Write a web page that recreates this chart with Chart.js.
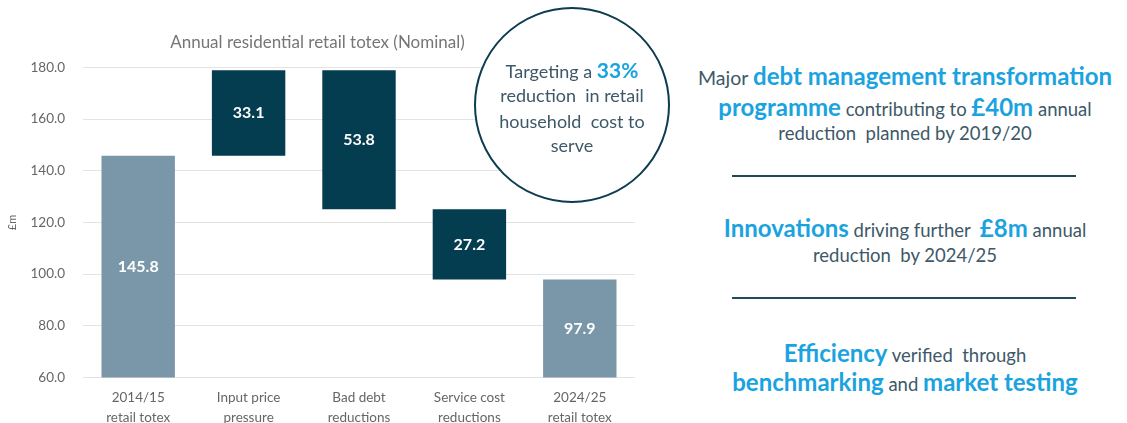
<!DOCTYPE html>
<html>
<head>
<meta charset="utf-8">
<script src="https://cdn.jsdelivr.net/npm/chart.js@4/dist/chart.umd.min.js"></script>
<style>
  body { margin: 0; background: #fff; font-family: Lato, "Open Sans", sans-serif; }
  #page { position: relative; width: 1127px; height: 423px; overflow: hidden; }
  #chartBox { position: absolute; left: 0; top: 0; width: 636px; height: 423px; }
  #circle {
    position: absolute; left: 474px; top: 7px; width: 196px; height: 196px;
    box-sizing: border-box; border: 2px solid #0d3b4f; border-radius: 50%; background: #fff;
  }
  .cl { position: absolute; left: 0; width: 100%; text-align: center; color: #3d5868; font-size: 18px; line-height: 24px; white-space: nowrap; }
  .rt { position: absolute; left: 685px; width: 440px; text-align: center; color: #3d5868; font-size: 18.5px; line-height: 30px; white-space: nowrap; }
  .hl { color: #1aa3df; font-weight: bold; font-size: 24px; }
  .rule { position: absolute; left: 732px; width: 344px; height: 2px; background: #1f4b5e; }
</style>
</head>
<body>
<div id="page">
  <div id="chartBox"><canvas id="waterfall"></canvas></div>

  <div id="circle">
    <div class="cl" style="top:49px">Targeting a <span class="hl" style="font-size:21px">33%</span></div>
    <div class="cl" style="top:74px">reduction&nbsp; in retail</div>
    <div class="cl" style="top:100px">household&nbsp; cost to</div>
    <div class="cl" style="top:124px">serve</div>
  </div>

  <div class="rt" style="top:61px"><span style="font-size:19.5px">Major</span> <span class="hl">debt management transformation</span></div>
  <div class="rt" style="top:92px"><span class="hl">programme</span> contributing to <span class="hl">£40m</span> annual</div>
  <div class="rt" style="top:118px">reduction&nbsp; planned by 2019/20</div>
  <div class="rule" style="top:175px"></div>

  <div class="rt" style="top:213px"><span class="hl">Innovations</span> driving further&nbsp; <span class="hl">£8m</span> annual</div>
  <div class="rt" style="top:240px">reduction&nbsp; by 2024/25</div>
  <div class="rule" style="top:297px"></div>

  <div class="rt" style="top:338px"><span class="hl">Efficiency</span> verified&nbsp; through</div>
  <div class="rt" style="top:367px"><span class="hl">benchmarking</span> and <span class="hl">market testing</span></div>
</div>

<script>
const categories = [
  ["2014/15", "retail totex"],
  ["Input price", "pressure"],
  ["Bad debt", "reductions"],
  ["Service cost", "reductions"],
  ["2024/25", "retail totex"]
]
const changes = [145.8, 33.1, -53.8, -27.2, 97.9]
const isTotal = [true, false, false, false, true]
const yMin = 60
const yMax = 180
const yStep = 20

const totalColor = "#7a96a9"
const stepColor = "#043c50"

// floating bars: totals start at zero, steps start where the last bar ended
let running = 0
const ranges = changes.map((v, i) => {
  if (isTotal[i]) { running = v; return [0, v] }
  const start = running
  running = +(running + v).toFixed(1)
  return [start, running]
})

const valueLabels = {
  id: "valueLabels",
  afterDatasetsDraw(chart) {
    const ctx = chart.ctx
    const area = chart.chartArea
    const meta = chart.getDatasetMeta(0)
    ctx.save()
    ctx.fillStyle = "#ffffff"
    ctx.font = "bold 16px Lato, 'Open Sans', sans-serif"
    ctx.textAlign = "center"
    ctx.textBaseline = "middle"
    meta.data.forEach((bar, i) => {
      const p = bar.getProps(["x", "y", "base"], true)
      const top = Math.max(Math.min(p.y, p.base), area.top)
      const bottom = Math.min(Math.max(p.y, p.base), area.bottom)
      ctx.fillText(Math.abs(changes[i]).toFixed(1), p.x, (top + bottom) / 2)
    })
    ctx.restore()
  }
}

const waterfallChart = new Chart(document.getElementById("waterfall"), {
  type: "bar",
  data: {
    labels: categories,
    datasets: [{
      data: ranges,
      backgroundColor: isTotal.map(t => t ? totalColor : stepColor),
      borderWidth: 0,
      barPercentage: 0.665,
      categoryPercentage: 1
    }]
  },
  options: {
    responsive: true,
    maintainAspectRatio: false,
    animation: false,
    layout: { padding: { left: 0, right: 1, top: 0, bottom: 0 } },
    plugins: {
      legend: { display: false },
      tooltip: { enabled: false },
      title: {
        display: true,
        text: "Annual residential retail totex (Nominal)",
        color: "#767676",
        font: { family: "Lato, 'Open Sans', sans-serif", size: 17, weight: "normal" },
        padding: { top: 32, bottom: 15 }
      }
    },
    scales: {
      x: {
        grid: { display: false },
        border: { display: false },
        ticks: {
          color: "#666666",
          font: { family: "Lato, 'Open Sans', sans-serif", size: 13.5, lineHeight: 1.42 },
          padding: 3,
          maxRotation: 0
        },
        afterFit(scale) { scale.height = 45.5 }
      },
      y: {
        min: yMin,
        max: yMax,
        grid: { color: "#e3e3e3", lineWidth: 1, drawTicks: false },
        border: { display: false },
        ticks: {
          stepSize: yStep,
          color: "#666666",
          font: { family: "Lato, 'Open Sans', sans-serif", size: 13.5 },
          padding: 18,
          callback: v => v.toFixed(1)
        },
        title: {
          display: true,
          text: "£m",
          color: "#666666",
          font: { family: "Lato, 'Open Sans', sans-serif", size: 11 },
          padding: { top: 6, bottom: 0 }
        },
        afterFit(scale) { scale.width = 83 }
      }
    }
  },
  plugins: [valueLabels]
})
</script>
</body>
</html>
